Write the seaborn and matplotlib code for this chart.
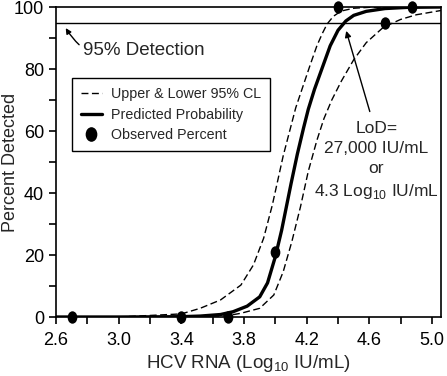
import numpy as np
import pandas as pd
import seaborn as sns
import matplotlib.pyplot as plt
from matplotlib.lines import Line2D
from matplotlib.path import Path
from matplotlib.transforms import Affine2D
from matplotlib.ticker import MultipleLocator, FixedLocator

# observed percent detected at each panel member (log10 IU/mL)
obs_x = [2.7, 3.4, 3.7, 4.0, 4.4, 4.7, 4.87]
obs_y = [0, 0, 0, 21, 100, 94.8, 100]

# predicted probability curve
pred_x = [2.6, 3.0, 3.4, 3.52, 3.65, 3.73, 3.82, 3.90, 3.95, 4.0, 4.04, 4.07, 4.10,
          4.14, 4.18, 4.21, 4.25, 4.30, 4.35, 4.40, 4.45, 4.50, 4.58, 4.70, 4.85, 5.06]
pred_y = [0, 0, 0.1, 0.3, 0.8, 1.7, 3.5, 6.5, 11, 19.5, 28, 35.5, 43,
          52.5, 61, 67, 73.5, 80.5, 87.5, 92.5, 95.5, 97.3, 98.6, 99.5, 99.9, 100]

# upper 95% confidence limit
upper_x = [2.6, 3.0, 3.4, 3.52, 3.65, 3.78, 3.86, 3.925, 3.98, 4.05, 4.13, 4.18,
           4.22, 4.265, 4.30, 4.33, 4.37, 4.42, 4.50, 4.60, 5.06]
upper_y = [0, 0, 1.0, 2.8, 5.5, 10.3, 16.8, 25.4, 36, 52, 67.5, 75,
           81, 87.5, 91.5, 94.5, 97, 98.7, 99.6, 99.9, 100]

# lower 95% confidence limit
lower_x = [2.6, 3.0, 3.4, 3.69, 3.78, 3.90, 3.99, 4.05, 4.105, 4.16, 4.21, 4.265,
           4.31, 4.36, 4.42, 4.50, 4.58, 4.69, 4.80, 4.90, 5.06]
lower_y = [0, 0, 0, 0.4, 1.2, 2.8, 7.1, 14.6, 24.3, 35.5, 47, 57,
           64, 70, 76, 83, 88.5, 93.5, 96, 97.5, 98.9]

xticks = [2.6, 3.0, 3.4, 3.8, 4.2, 4.6, 5.0]

sns.set_style('ticks')
plt.rcParams['font.family'] = ['Liberation Sans', 'DejaVu Sans']
plt.rcParams['mathtext.fontset'] = 'custom'
plt.rcParams['mathtext.rm'] = 'Liberation Sans'

fig = plt.figure(figsize=(4.47, 3.76), dpi=100)
ax = fig.add_axes([56 / 447, 59 / 376, 385 / 447, 310 / 376])

dash = (0, (5, 2.5))
sns.lineplot(x=upper_x, y=upper_y, ax=ax, color='black', lw=1.0, linestyle=dash, sort=False)
sns.lineplot(x=lower_x, y=lower_y, ax=ax, color='black', lw=1.0, linestyle=dash, sort=False)
sns.lineplot(x=pred_x, y=pred_y, ax=ax, color='black', lw=2.4, sort=False)

# slightly tall dots like the original
dot = Path.unit_circle().transformed(Affine2D().scale(0.78, 1.0))
sns.scatterplot(x=obs_x, y=obs_y, ax=ax, marker=dot, s=80, color='black',
                edgecolor='black', linewidth=0, zorder=5, clip_on=False)

ax.axhline(95, color='black', lw=1.0)

ax.set_xlim(2.6, 5.057)
ax.set_ylim(0, 100)
ax.xaxis.set_major_locator(FixedLocator(xticks))
ax.xaxis.set_minor_locator(MultipleLocator(0.2))
ax.yaxis.set_major_locator(MultipleLocator(20))
ax.yaxis.set_minor_locator(MultipleLocator(10))
ax.xaxis.set_major_formatter(plt.FormatStrFormatter('%.1f'))
ax.tick_params(which='both', direction='out', length=5, width=1.2, colors='black',
               labelsize=13)
ax.tick_params(axis='x', which='major', pad=6)
ax.tick_params(axis='y', which='major', pad=3.5)
for s in ax.spines.values():
    s.set_linewidth(1.2)
    s.set_color('black')

ax.set_xlabel(r'HCV RNA (Log$_\mathregular{10}$ IU/mL)', fontsize=13.5, labelpad=3)
ax.set_ylabel('Percent Detected', fontsize=13, va='center')
ax.yaxis.set_label_coords(-0.118, 0.5)

handles = [
    Line2D([], [], color='black', lw=1.0, linestyle=dash),
    Line2D([], [], color='black', lw=2.4),
    Line2D([], [], color='black', lw=0, marker=dot, markersize=9.5),
]
labels = ['Upper & Lower 95% CL', 'Predicted Probability', 'Observed Percent']
leg = ax.legend(handles, labels, loc='upper left', bbox_to_anchor=(0.041, 0.77),
                fontsize=10.3, frameon=True, fancybox=False, edgecolor='black',
                framealpha=1, handlelength=1.5, handletextpad=0.6,
                labelspacing=0.45, borderpad=0.62, borderaxespad=0)
leg.get_frame().set_linewidth(1.0)

ax.annotate('95% Detection', xy=(2.662, 93.2), xytext=(2.775, 86),
            fontsize=13.5, va='center', ha='left',
            arrowprops=dict(arrowstyle='-|>', color='black', lw=1.0,
                            mutation_scale=8, shrinkA=1, shrinkB=0,
                            connectionstyle='arc3,rad=-0.45'))

ax.annotate('LoD=\n27,000 IU/mL\nor\n4.3 Log$_\\mathregular{10}$ IU/mL',
            xy=(4.452, 92.3), xytext=(4.645, 50.3), fontsize=12.5,
            ha='center', va='center', linespacing=1.4,
            arrowprops=dict(arrowstyle='-|>', color='black', lw=1.0,
                            mutation_scale=9, shrinkA=5, shrinkB=0,
                            relpos=(0.47, 1.0)))

fig.savefig('out.png', dpi=100)
